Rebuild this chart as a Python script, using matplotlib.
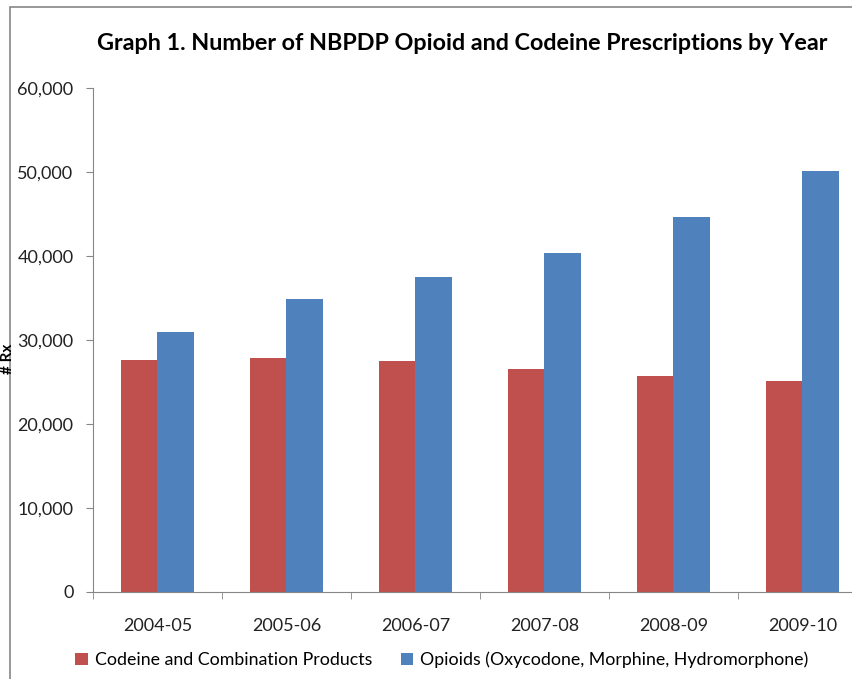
import numpy as np
import matplotlib.pyplot as plt
from matplotlib.patches import Rectangle
from matplotlib.ticker import FuncFormatter

# values
years = ['2004-05', '2005-06', '2006-07', '2007-08', '2008-09', '2009-10']
codeine = [27600, 27900, 27500, 26500, 25700, 25100]
opioids = [31000, 34900, 37500, 40300, 44700, 50150]

red = '#C0504D'
blue = '#4F81BD'
grey = '#868686'
font = 'Lato'

plt.rcParams['font.family'] = [font, 'DejaVu Sans']

fig = plt.figure(figsize=(8.53, 6.79), dpi=100)

# outer chart frame (right/bottom edges cut off like the original)
fig.patches.append(Rectangle((10 / 853, -0.1), 1.2, (679 - 7) / 679 + 0.1,
                             transform=fig.transFigure, fill=False,
                             edgecolor=grey, linewidth=1.2))

ax = fig.add_axes([93 / 853, 87 / 679, 774 / 853, (592 - 88) / 679])

x = np.arange(len(years))
w = 0.284
ax.bar(x - w / 2, codeine, w, color=red, label='Codeine and Combination Products')
ax.bar(x + w / 2, opioids, w, color=blue,
       label='Opioids (Oxycodone, Morphine, Hydromorphone)')

ax.set_xlim(-0.5, len(years) - 0.5)
ax.set_ylim(0, 60000)
ax.set_yticks(range(0, 60001, 10000))
ax.yaxis.set_major_formatter(FuncFormatter(lambda v, p: f'{int(v):,}'))

ax.set_xticks(x)
ax.set_xticklabels(years)
ax.set_xticks(np.arange(-0.5, len(years)), minor=True)
ax.tick_params(axis='x', which='major', length=0, pad=19, labelsize=13, labelcolor='#222222')
ax.tick_params(axis='x', which='minor', length=5, color=grey, direction='out')
ax.tick_params(axis='y', length=5, color=grey, pad=9, labelsize=13, labelcolor='#222222')

for s in ['top', 'right']:
    ax.spines[s].set_visible(False)
for s in ['left', 'bottom']:
    ax.spines[s].set_color(grey)

fig.text(462 / 853, 1 - 44 / 679,
         'Graph 1. Number of NBPDP Opioid and Codeine Prescriptions by Year',
         ha='center', va='center', fontsize=16.8, fontweight='bold')
fig.text(8 / 853, 1 - 359 / 679, '# Rx', rotation=90, ha='center', va='center',
         fontsize=11, fontweight='bold')

fig.legend(loc='center', bbox_to_anchor=(442 / 853, 1 - 660 / 679), ncol=2,
           frameon=False, fontsize=12.8, handlelength=0.7, handleheight=0.7,
           handletextpad=0.4, columnspacing=1.6)

fig.savefig('out.png', dpi=100)
